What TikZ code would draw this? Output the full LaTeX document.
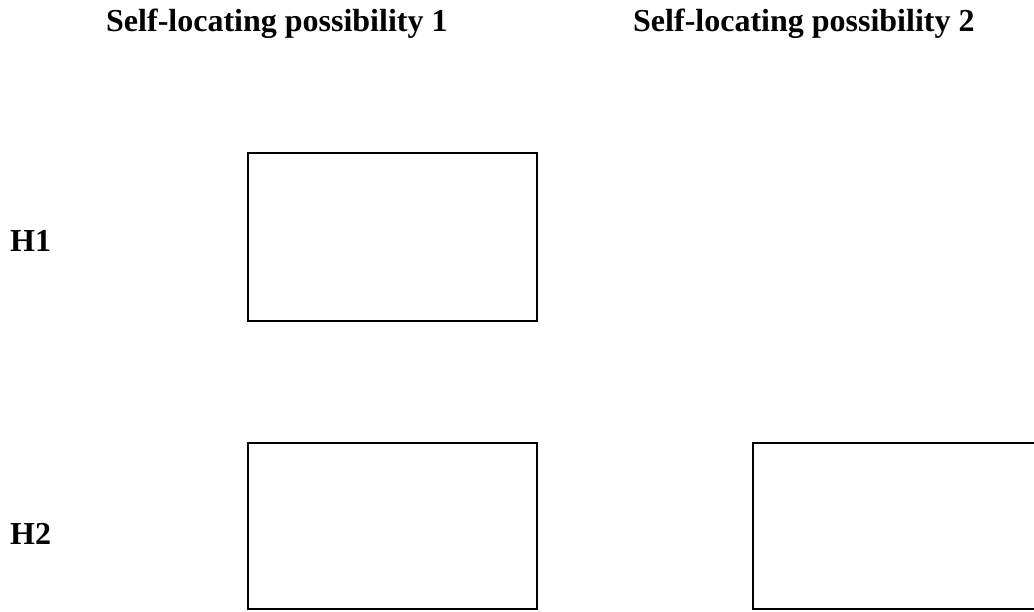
\documentclass[tikz,border=0pt]{standalone}
\usepackage{fontspec}
\setmainfont{Liberation Serif}
\begin{document}
\begin{tikzpicture}[x=1pt,y=-1pt,
  cell/.style={draw=black,line width=1.3pt,fill=white,inner sep=0pt,outer sep=0pt},
  label/.style={font=\bfseries\fontsize{32}{36}\selectfont,inner sep=0pt,anchor=base west}]
  \useasboundingbox (0,0) rectangle (1034,611);
  % column headings
  \node[label] (t1) at (106,31) {Self-locating possibility 1};
  \node[label] (t2) at (633,31) {Self-locating possibility 2};
  % row labels
  \node[label] (h1) at (10,251) {H1};
  \node[label] (h2) at (10,544) {H2};
  % cells
  \node[cell,minimum width=289pt,minimum height=168pt,anchor=north west] (a1) at (248,153) {};
  \node[cell,minimum width=289pt,minimum height=166pt,anchor=north west] (a2) at (248,443) {};
  \node[cell,minimum width=290pt,minimum height=166pt,anchor=north west] (b2) at (753,443) {};
\end{tikzpicture}
\end{document}
